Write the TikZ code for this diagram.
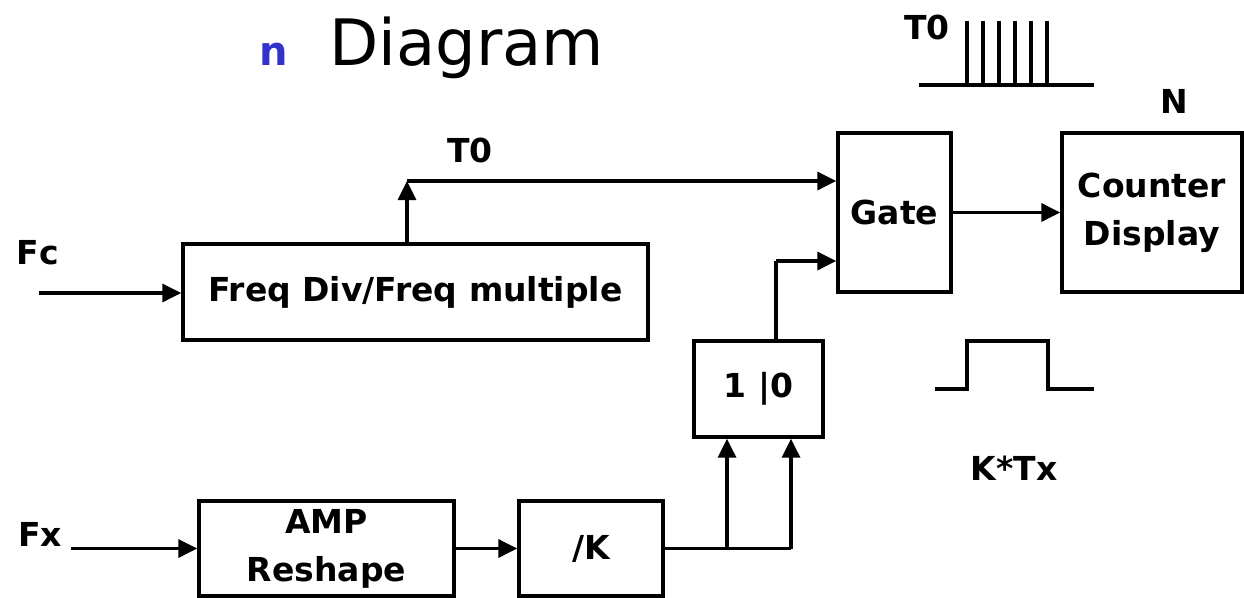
\documentclass[tikz,border=0pt]{standalone}
\usepackage{fontspec}
\setmainfont{DejaVu Sans}
\usetikzlibrary{arrows.meta}
\definecolor{bulletblue}{RGB}{51,51,204}
\begin{document}
\begin{tikzpicture}[x=1pt,y=-1pt,
  lw/.style={line width=3.4pt},
  blk/.style={draw,lw,inner sep=0pt,align=center,font=\fontsize{33}{48}\selectfont\bfseries},
  lbl/.style={inner sep=0pt,font=\fontsize{33}{40}\selectfont\bfseries},
  arr/.style={lw,-{Triangle[length=19pt,width=18pt]}},
  wire/.style={lw}]
\useasboundingbox (0,0) rectangle (1244,597);
% title
\node[anchor=base west,inner sep=0pt,text=bulletblue,font=\fontsize{40}{44}\selectfont\bfseries] (bul) at (259,65) {n};
\node[anchor=base west,inner sep=0pt,font=\fontsize{64}{70}\selectfont] (title) at (329,65) {Diagram};
% blocks
\node[blk,minimum width=465,minimum height=96] (fd) at (415.5,292) {Freq Div/Freq multiple};
\node[blk,minimum width=113,minimum height=159] (gate) at (894.5,212.5) {Gate};
\node[blk,minimum width=180,minimum height=159] (cnt) at (1152,212.5) {Counter\\Display};
\node[blk,minimum width=129,minimum height=96] (sw) at (758.5,389) {1 |0};
\node[blk,minimum width=255,minimum height=95] (amp) at (326.5,548.5) {AMP\\Reshape};
\node[blk,minimum width=144,minimum height=95] (divk) at (591,548.5) {/K};
% labels
\node[lbl] (lfc) at (38,253) {Fc};
\node[lbl] (lfx) at (40,534) {Fx};
\node[lbl] (lt0) at (470,150) {T0};
\node[lbl] (lt0b) at (927,27) {T0};
\node[lbl] (ln) at (1174,101) {N};
\node[lbl] (lk) at (1014,468) {K*Tx};
% coordinates
\coordinate (fcin) at (39,293);
\coordinate (fxin) at (71,548.5);
\coordinate (t0) at (407,181);
\coordinate (c1) at (776,261);
\coordinate (b1) at (727,548.5);
\coordinate (b2) at (791,548.5);
% connectors
\draw[arr] (fcin) -- (fcin -| fd.west);
\draw[arr] (fd.north -| t0) -- (t0);
\draw[arr] (t0) -- (t0 -| gate.west);
\draw[wire] (c1 |- sw.north) -- (c1);
\draw[arr] (c1) -- (c1 -| gate.west);
\draw[arr] (gate.east) -- (cnt.west);
\draw[arr] (fxin) -- (amp.west);
\draw[arr] (amp.east) -- (divk.west);
\draw[wire] (divk.east) -- (b2);
\draw[arr] (b1) -- (b1 |- sw.south);
\draw[arr] (b2) -- (b2 |- sw.south);
% pulse train
\draw[wire] (919,85) -- (1094,85);
\foreach \x in {967,983,999,1015,1031,1047} \draw[wire] (\x,85) -- (\x,21);
% gate waveform
\draw[wire] (935,389) -- (967,389) -- (967,341) -- (1048,341) -- (1048,389) -- (1094,389);
\end{tikzpicture}
\end{document}
